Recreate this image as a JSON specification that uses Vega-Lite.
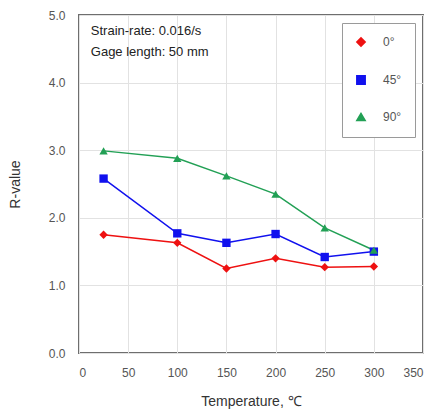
{
  "$schema": "https://vega.github.io/schema/vega-lite/v6.json",
  "width": 344,
  "height": 338,
  "autosize": "none",
  "padding": {"left": 79, "top": 15, "right": 13, "bottom": 65},
  "background": "white",
  "config": {
    "view": {"stroke": "#6e6e6e", "strokeWidth": 2},
    "font": "Liberation Sans",
    "axis": {"labelColor": "#555555", "labelFontSize": 12, "titleColor": "#333333", "titleFontSize": 14, "titleFontWeight": "normal", "gridColor": "#e2e2e2", "ticks": false, "domain": false},
    "legend": {"title": null, "orient": "top-right", "offset": 8, "strokeColor": "#9a9a9a", "padding": 13, "rowPadding": 22, "labelFontSize": 12, "labelColor": "#555555", "labelOffset": 16, "symbolSize": 70, "fillColor": "white"}
  },
  "datasets": {
    "pts": [
      {"T": 25, "R": 1.75, "s": "0°"},
      {"T": 100, "R": 1.63, "s": "0°"},
      {"T": 150, "R": 1.25, "s": "0°"},
      {"T": 200, "R": 1.40, "s": "0°"},
      {"T": 250, "R": 1.27, "s": "0°"},
      {"T": 300, "R": 1.28, "s": "0°"},
      {"T": 25, "R": 2.58, "s": "45°"},
      {"T": 100, "R": 1.77, "s": "45°"},
      {"T": 150, "R": 1.63, "s": "45°"},
      {"T": 200, "R": 1.76, "s": "45°"},
      {"T": 250, "R": 1.42, "s": "45°"},
      {"T": 300, "R": 1.50, "s": "45°"},
      {"T": 25, "R": 2.99, "s": "90°"},
      {"T": 100, "R": 2.88, "s": "90°"},
      {"T": 150, "R": 2.62, "s": "90°"},
      {"T": 200, "R": 2.35, "s": "90°"},
      {"T": 250, "R": 1.85, "s": "90°"},
      {"T": 300, "R": 1.52, "s": "90°"}
    ],
    "notes": [
      {"T": 12, "R": 4.77, "t": "Strain-rate: 0.016/s"},
      {"T": 12, "R": 4.45, "t": "Gage length: 50 mm"}
    ]
  },
  "encoding": {
    "x": {"field": "T", "type": "quantitative", "scale": {"domain": [0, 350], "nice": false}, "axis": {"values": [0, 50, 100, 150, 200, 250, 300, 350], "title": "Temperature, ℃", "titlePadding": 16, "labelPadding": 14}},
    "y": {"field": "R", "type": "quantitative", "scale": {"domain": [0, 5], "nice": false}, "axis": {"values": [0, 1, 2, 3, 4, 5], "format": ".1f", "title": "R-value", "titlePadding": 26, "labelPadding": 14}}
  },
  "layer": [
    {
      "data": {"name": "pts"},
      "mark": {"type": "line", "strokeWidth": 1.5},
      "encoding": {
        "color": {"field": "s", "type": "nominal", "scale": {"domain": ["0°", "45°", "90°"], "range": ["#ee1111", "#1111ee", "#22a055"]}}
      }
    },
    {
      "data": {"name": "pts"},
      "mark": {"type": "point", "filled": true, "opacity": 1, "size": 70},
      "encoding": {
        "color": {"field": "s", "type": "nominal"},
        "shape": {"field": "s", "type": "nominal", "scale": {"domain": ["0°", "45°", "90°"], "range": ["diamond", "square", "triangle-up"]}}
      }
    },
    {
      "data": {"name": "notes"},
      "mark": {"type": "text", "align": "left", "baseline": "middle", "fontSize": 13, "color": "#222222"},
      "encoding": {"text": {"field": "t"}}
    }
  ]
}
